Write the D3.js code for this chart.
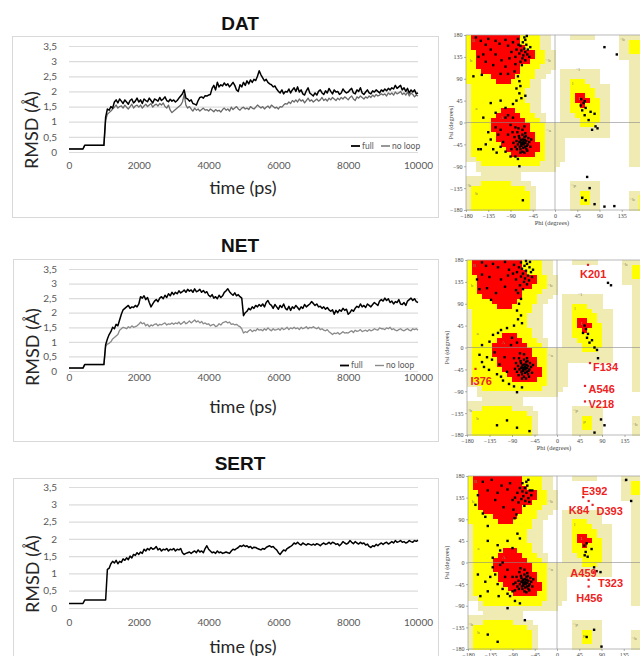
<!DOCTYPE html>
<html><head><meta charset="utf-8">
<script src="https://cdn.jsdelivr.net/npm/d3@7"></script>
<style>body{margin:0;background:#fff}svg{display:block}</style>
</head><body><svg id="c" width="640" height="656"></svg>
<script>
// ---------------- DATA ----------------
const timeStepPs = 50;
const xTicks = [0, 2000, 4000, 6000, 8000, 10000];
const yTicks = [0, 0.5, 1, 1.5, 2, 2.5, 3, 3.5];
const yTickLabels = ["0", "0,5", "1", "1,5", "2", "2,5", "3", "3,5"];
const seriesNames = ["full", "no loop"];
const panelTitles = ["DAT", "NET", "SERT"];

const datFull = [0.1,0.1,0.1,0.1,0.1,0.1,0.1,0.1,0.1,
0.22,0.22,0.22,0.22,0.22,0.22,0.22,0.22,0.22,0.22,0.22,0.22,
1.15,1.42,1.38,1.5,1.45,1.65,1.72,1.62,1.75,
1.68,1.6,1.72,1.65,1.58,1.7,1.75,1.62,1.68,1.78,
1.65,1.72,1.6,1.75,1.7,1.66,1.78,1.7,1.62,1.75,
1.72,1.68,1.8,1.7,1.75,1.82,1.7,1.66,1.74,1.68,
1.72,1.65,1.7,1.78,1.85,1.92,2.05,1.78,1.75,1.68,
1.72,1.6,1.58,1.55,1.7,1.8,1.82,1.78,1.86,1.85,
1.88,1.9,2.1,2.2,2.05,2.3,2.15,2.22,2.18,2.28,
2.2,2.25,2.15,2.22,2.3,2.2,2.05,2.0,2.22,2.15,
2.3,2.2,2.35,2.25,2.38,2.3,2.4,2.36,2.5,2.68,
2.55,2.45,2.35,2.4,2.3,2.25,2.22,2.15,2.18,2.08,
2.0,1.95,2.05,1.92,2.0,1.98,2.08,1.95,2.05,2.12,
2.0,2.15,1.98,2.05,1.92,1.88,2.02,2.12,1.95,1.9,
1.85,1.95,1.88,2.0,2.05,1.95,1.9,2.02,1.95,2.1,
2.0,1.92,2.05,1.98,2.0,1.9,1.95,2.08,2.0,1.95,
1.98,2.05,2.1,1.95,1.92,2.05,2.0,2.12,1.95,1.9,
1.98,2.05,1.95,1.92,2.02,1.98,2.05,2.0,1.95,2.05,
2.0,2.08,2.02,2.1,2.05,2.12,2.08,2.2,2.1,2.15,
2.2,2.05,2.12,2.0,2.1,1.95,2.05,1.98,2.05,1.92,
1.95];
const datNoLoop = [0.1,0.1,0.1,0.1,0.1,0.1,0.1,0.1,0.1,
0.22,0.22,0.22,0.22,0.22,0.22,0.22,0.22,0.22,0.22,0.22,0.22,
1.05,1.25,1.3,1.35,1.42,1.48,1.55,1.45,1.5,
1.52,1.45,1.55,1.48,1.42,1.5,1.58,1.45,1.52,1.55,
1.48,1.55,1.45,1.52,1.58,1.5,1.55,1.6,1.48,1.55,
1.58,1.52,1.6,1.55,1.62,1.5,1.45,1.55,1.38,1.3,
1.35,1.4,1.45,1.5,1.55,1.65,1.9,1.55,1.45,1.5,
1.42,1.35,1.45,1.38,1.42,1.35,1.4,1.45,1.38,1.4,
1.35,1.42,1.38,1.33,1.4,1.35,1.38,1.32,1.4,1.45,
1.38,1.42,1.35,1.48,1.4,1.45,1.5,1.42,1.38,1.45,
1.48,1.42,1.45,1.4,1.5,1.45,1.42,1.48,1.55,1.5,
1.45,1.5,1.42,1.48,1.52,1.45,1.55,1.5,1.45,1.48,
1.42,1.5,1.48,1.55,1.6,1.58,1.65,1.6,1.7,1.65,
1.72,1.65,1.75,1.68,1.72,1.62,1.7,1.78,1.68,1.72,
1.65,1.7,1.75,1.68,1.72,1.8,1.7,1.75,1.68,1.78,
1.72,1.8,1.75,1.7,1.78,1.72,1.8,1.75,1.82,1.78,
1.72,1.8,1.85,1.75,1.7,1.82,1.78,1.85,1.8,1.75,
1.82,1.78,1.85,1.8,1.88,1.82,1.9,1.85,1.88,1.92,
1.88,1.92,1.85,1.95,1.9,1.95,1.88,1.98,1.92,1.95,
2.0,1.9,1.95,1.88,1.98,1.85,1.95,1.9,1.82,1.88,
1.85];
const netFull = [0.1,0.1,0.1,0.1,0.1,0.1,0.1,0.1,0.1,
0.22,0.22,0.22,0.22,0.22,0.22,0.22,0.22,0.22,0.22,0.22,0.22,
0.9,1.1,1.25,1.35,1.5,1.45,1.6,1.55,1.75,
1.95,2.1,2.15,2.2,2.25,2.15,2.2,2.18,2.25,2.2,
2.3,2.55,2.5,2.58,2.45,2.52,2.35,2.2,2.3,2.4,
2.45,2.38,2.5,2.55,2.48,2.6,2.52,2.65,2.58,2.7,
2.62,2.7,2.65,2.75,2.68,2.72,2.78,2.7,2.8,2.74,
2.78,2.7,2.82,2.72,2.75,2.8,2.7,2.76,2.68,2.72,
2.6,2.55,2.62,2.5,2.55,2.48,2.6,2.52,2.58,2.7,
2.75,2.82,2.72,2.65,2.6,2.68,2.58,2.62,2.55,2.5,
1.9,2.0,2.05,2.15,2.1,2.2,2.15,2.25,2.2,2.28,
2.22,2.3,2.2,2.35,2.42,2.3,2.25,2.15,2.28,2.2,
2.12,2.25,2.18,2.3,2.15,2.1,2.22,2.08,2.2,2.15,
2.25,2.18,2.1,2.2,2.15,2.28,2.2,2.25,2.3,2.38,
2.32,2.25,2.3,2.2,2.22,2.15,2.2,2.12,2.18,2.1,
2.05,2.1,1.95,2.08,2.0,2.1,2.05,2.15,2.08,2.12,
1.95,2.0,2.1,2.05,2.15,2.22,2.18,2.3,2.2,2.25,
2.18,2.3,2.25,2.2,2.28,2.35,2.3,2.25,2.4,2.45,
2.4,2.5,2.42,2.48,2.35,2.4,2.3,2.38,2.35,2.45,
2.3,2.28,2.35,2.25,2.4,2.45,2.5,2.42,2.48,2.38,
2.35];
const netNoLoop = [0.1,0.1,0.1,0.1,0.1,0.1,0.1,0.1,0.1,
0.22,0.22,0.22,0.22,0.22,0.22,0.22,0.22,0.22,0.22,0.22,0.22,
0.85,0.92,0.95,1.0,1.1,1.15,1.2,1.25,1.4,
1.45,1.5,1.48,1.45,1.52,1.48,1.55,1.5,1.52,1.55,
1.6,1.68,1.62,1.65,1.55,1.6,1.52,1.58,1.55,1.6,
1.62,1.55,1.6,1.58,1.62,1.65,1.58,1.62,1.6,1.65,
1.6,1.65,1.62,1.68,1.6,1.65,1.7,1.62,1.66,1.72,
1.65,1.7,1.75,1.68,1.72,1.65,1.7,1.62,1.65,1.6,
1.62,1.55,1.58,1.6,1.52,1.55,1.62,1.58,1.65,1.68,
1.7,1.65,1.68,1.6,1.62,1.58,1.6,1.55,1.52,1.45,
1.3,1.35,1.32,1.38,1.42,1.35,1.4,1.38,1.45,1.4,
1.42,1.38,1.45,1.4,1.48,1.42,1.38,1.45,1.4,1.42,
1.45,1.4,1.48,1.42,1.45,1.5,1.42,1.48,1.45,1.5,
1.45,1.48,1.42,1.5,1.45,1.48,1.52,1.45,1.5,1.48,
1.52,1.48,1.45,1.5,1.42,1.45,1.4,1.38,1.42,1.35,
1.3,1.25,1.3,1.28,1.32,1.26,1.3,1.35,1.3,1.32,
1.3,1.35,1.38,1.32,1.4,1.36,1.38,1.42,1.35,1.38,
1.4,1.36,1.42,1.38,1.4,1.45,1.42,1.4,1.48,1.45,
1.45,1.42,1.48,1.45,1.5,1.42,1.45,1.4,1.38,1.42,
1.45,1.4,1.38,1.42,1.45,1.4,1.38,1.45,1.42,1.45,
1.4];
const sertFull = [0.13,0.13,0.13,0.13,0.13,0.13,0.13,0.13,0.13,
0.23,0.23,0.23,0.23,0.23,0.23,0.23,0.23,0.23,0.23,0.23,0.23,0.23,
1.12,1.15,1.28,1.35,1.3,1.38,1.28,1.35,
1.32,1.42,1.38,1.45,1.4,1.5,1.45,1.55,1.52,1.6,
1.55,1.62,1.58,1.7,1.65,1.72,1.68,1.75,1.7,1.72,
1.78,1.68,1.72,1.65,1.7,1.68,1.72,1.65,1.7,1.68,
1.72,1.65,1.7,1.68,1.72,1.6,1.55,1.58,1.6,1.62,
1.58,1.62,1.65,1.6,1.68,1.62,1.65,1.6,1.72,1.8,
1.7,1.65,1.6,1.62,1.58,1.65,1.6,1.62,1.58,1.6,
1.62,1.6,1.58,1.65,1.7,1.68,1.72,1.75,1.8,1.78,
1.82,1.78,1.8,1.75,1.78,1.72,1.76,1.75,1.72,1.7,
1.68,1.72,1.7,1.75,1.78,1.8,1.76,1.78,1.72,1.68,
1.6,1.55,1.62,1.68,1.65,1.72,1.75,1.78,1.82,1.88,
1.85,1.9,1.85,1.82,1.88,1.85,1.82,1.86,1.84,1.82,
1.85,1.82,1.86,1.84,1.8,1.85,1.88,1.84,1.86,1.9,
1.85,1.9,1.88,1.84,1.86,1.8,1.85,1.92,1.88,1.85,
1.88,1.95,1.9,1.86,1.92,1.88,1.85,1.9,1.86,1.88,
1.82,1.85,1.78,1.75,1.8,1.78,1.84,1.8,1.85,1.88,
1.84,1.88,1.9,1.85,1.88,1.92,1.88,1.95,1.9,1.92,
1.95,1.9,1.92,1.88,1.9,1.95,1.92,1.9,1.95,1.93,
1.96];

// Ramachandran region map: 36 rows (psi 180 -> -180, 10 deg each) x 36 cols (phi -180 -> 180)
// r = most favoured, y = additional allowed, p = generously allowed, . = disallowed
const ramaRegionRows = [
"yrrrrrrrrrryyyypp....ppppp.....ppppp",
"yrrrrrrrrrryyyypp..............ppyyy",
"yrrrrrrrrrrryyypp..............ppyyy",
"yyrrrrrrrrrrrryypp.............ppyyy",
"yyrrrrrrrrrrrryypp.............ppppp",
"yyrrrrrrrrrrryyypp...............ppp",
"yyrrrrrrrrryyyyppp...............ppp",
"yyyrrrrrrrryyyppp..pppppppp......ppp",
"yyyyyrrrrryyyypp...pppppppp......ppp",
"yyyyyyrrryyyypp....ppyyyppp......ppp",
"pyyyyyyyyyyyypp....ppyyyypppp....ppp",
"pyyyyyyyyyyyppp....ppyyyyyppp....ppp",
"pyyyyyyyyyyyppp....ppyrryyppp....ppp",
"pyyyyyyyyyyyppp....ppyrrryypp....ppp",
"pyyyyyyyyyyyypp....ppyyryyypp....ppp",
"pyyyyyyrrryyypp....ppyyyyyypp....ppp",
"pyyyyyrrrrryyypp...pppyyyyypp....ppp",
"pyyyyrrrrrrryyyp...ppppyyyypp....ppp",
"pyyyyrrrrrrrryyypppppppyyyppp....ppp",
"pyyyyrrrrrrrryyyppppppppppppp....ppp",
"pyyyyyrrrrrrrryyppppppppppppp....ppp",
"pyyyyyrrrrrrrryypppp.............ppp",
"pyyyyyyrrrrrrrrypppp.............ppp",
"pyyyyyyyrrrrrrrypppp.............ppp",
"pyyyyyyyyrrrrryypppp.............ppp",
"ppyyyyyyyyyyyyyypppp.............ppp",
"..pyyyyyyyyyyyypppp..............ppp",
"..pppppppppppppppp..................",
"...pppppppp.........................",
"ppppppppppp.........................",
"pppyyyyyypppp........pppppp.........",
"pyyyyyyyyyyypp.......pppppp.........",
"pyyyyyyyyyyyyp.......ppyypp......ppp",
"pyyyyyyyyyyyyp.......ppyypp......ppy",
"pyyyyyyyyyyyyp.......ppyypp......ppy",
"pyyyyyyyyyyyyp.......pppppp......ppy"];
const ramaTicks = [180, 135, 90, 45, 0, -45, -90, -135, -180];
const ramaPhiTicks = [-180, -135, -90, -45, 0, 45, 90, 135];
// small region letters [text, phi, psi]
const ramaRegionLabels = [["B",-164,170],["b",-170,128],["~b",-14,128],["~l",46,110],["l",36,80],["L",51,50],
 ["a",-159,30],["A",-107,10],["~a",-13,-15],["~p",37,-129],["p",55,-151],["b",-159,-146],["~b",-175,-129],["~b",136,171],["~b",156,-157]];

// [phi, psi] residues
const datPhiPsi = [[-60,170],[-65,165],[-58,160],[-70,158],[-62,152],[-55,150],[-68,148],[-60,145],[-72,142],[-64,138],[-56,140],[-66,132],[-60,128],[-70,125],[-52,135],[-74,160],[-78,150],[-80,135],[-85,165],[-88,145],[-62,175],[-57,178],[-75,172],[-50,155],[-67,118],[-80,120],[-82,105],
[-160,175],[-150,168],[-140,160],[-135,172],[-120,168],[-112,162],[-100,170],[-95,158],[-145,140],[-155,135],[-130,150],[-120,140],[-108,128],[-100,115],[-92,132],[-125,118],[-140,125],[-95,100],[-75,95],[-72,85],[-70,75],[-78,70],[-165,95],[-148,98],[-110,100],
[-72,60],[-68,50],[-78,45],[-60,55],[-110,45],[-130,40],[-85,38],[-100,30],[-120,20],[-145,10],[-95,15],
[-120,-10],[-115,-25],[-130,-35],[-140,-45],[-150,-55],[-155,-55],[-125,-55],[-110,-50],[-100,-60],[-105,-40],[-95,-25],[-90,-5],[-85,10],[-100,10],[-80,-70],[-75,-75],[-90,-70],[-72,-90],[-110,-15],[-135,-20],[-118,-62],[-88,-55],
[-70,-40],[-65,-35],[-60,-42],[-68,-48],[-62,-30],[-58,-38],[-72,-32],[-66,-25],[-55,-45],[-75,-45],[-64,-52],[-70,-55],[-58,-55],[-52,-40],[-60,-22],[-78,-38],[-80,-50],[-67,-42],[-63,-45],[-57,-48],[-73,-28],[-66,-60],[-54,-32],[-61,-36],[-69,-36],[-65,-44],[-71,-50],[-59,-28],[-76,-20],[-82,-30],[-62,-62],[-56,-58],[-50,-50],[-48,-35],[-66,-15],[-74,-12],[-84,-42],[-77,-55],[-64,-40],[-68,-44],[-60,-50],[-72,-40],[-70,-62],[-86,-20],[-80,-10],[-62,-8],
[53,48],[58,40],[60,44],[52,35],[62,30],[55,25],[60,15],[72,22],[80,18],[68,5],[82,-8],[86,-12],[75,-15],
[100,155],[125,140],[65,-112],[70,-135],[80,-168],[100,-173],[120,-172],[-65,-160],[55,-155],[62,-160]];
const netPhiPsi = [[-60,172],[-65,168],[-55,165],[-70,162],[-62,158],[-52,155],[-68,152],[-58,148],[-72,146],[-64,142],[-56,138],[-66,135],[-60,130],[-74,128],[-50,145],[-76,165],[-80,155],[-82,140],[-86,170],[-62,178],[-54,176],[-72,175],[-48,160],[-68,120],[-78,112],
[-150,175],[-142,168],[-128,172],[-118,165],[-104,176],[-96,160],[-150,150],[-135,145],[-112,140],[-98,148],[-88,152],[-160,140],[-104,125],[-122,112],[-140,122],[-82,118],[-72,100],[-76,90],[-80,76],[-72,66],[-78,58],[-70,50],[-86,45],[-132,98],[-155,120],
[-112,36],[-118,30],[-128,26],[-135,12],[-150,5],[-100,40],[-90,20],[-155,-15],
[-150,-30],[-146,-40],[-136,-46],[-130,-25],[-120,-55],[-112,-60],[-96,-75],[-86,-80],[-80,-92],[-125,-10],[-115,-35],[-105,-20],[-140,-20],[-100,-50],[-92,5],[-80,10],[-108,-68],[-70,-82],
[-70,-40],[-65,-35],[-60,-42],[-68,-48],[-62,-30],[-58,-38],[-72,-32],[-66,-25],[-55,-45],[-75,-45],[-64,-52],[-70,-55],[-58,-55],[-52,-40],[-60,-22],[-78,-38],[-80,-50],[-67,-42],[-63,-45],[-57,-48],[-73,-28],[-66,-60],[-54,-32],[-61,-36],[-69,-36],[-65,-44],[-71,-50],[-59,-28],[-76,-22],[-82,-32],[-62,-64],[-56,-60],[-50,-52],[-48,-36],[-66,-14],[-74,-12],[-84,-44],[-77,-57],[-64,-40],[-68,-46],[-60,-50],[-72,-42],[-70,-64],[-86,-22],
[55,45],[58,38],[52,30],[60,20],[65,10],[70,15],[75,0],[80,-5],[82,-22],[62,28],
[102,133],[108,128],[88,-148],[95,-160],[75,-175],[-100,-150],[-80,-165],[-55,-172],[-120,-160]];
const sertPhiPsi = [[-60,160],[-65,155],[-55,150],[-70,148],[-62,145],[-52,140],[-68,138],[-58,134],[-72,132],[-64,128],[-56,126],[-75,155],[-80,145],[-85,135],[-62,168],[-50,150],[-78,125],[-66,118],[-70,165],[-58,172],
[-150,168],[-132,172],[-112,160],[-160,140],[-140,150],[-120,145],[-100,152],[-90,130],[-165,120],[-150,102],[-145,95],[-82,100],[-86,92],[-140,76],[-108,115],[-125,130],[-95,165],[-88,110],
[-120,36],[-115,25],[-140,45],[-100,45],[-90,30],[-130,10],[-75,50],[-80,60],
[-130,-10],[-125,-25],[-135,-30],[-120,-45],[-110,-55],[-100,-65],[-95,-70],[-85,-80],[-75,-85],[-140,-60],[-145,-40],[-160,-25],[-155,-70],[-115,-5],[-105,-30],[-118,-70],[-90,-60],[-100,-15],[-110,0],
[-70,-40],[-65,-35],[-60,-42],[-68,-48],[-62,-30],[-58,-38],[-72,-32],[-66,-25],[-55,-45],[-75,-45],[-64,-52],[-70,-55],[-58,-55],[-52,-40],[-60,-22],[-78,-38],[-80,-50],[-67,-42],[-63,-45],[-57,-48],[-73,-28],[-66,-60],[-54,-32],[-61,-36],[-69,-36],[-65,-44],[-71,-50],[-59,-28],[-76,-20],[-82,-30],[-62,-62],[-56,-58],[-50,-50],[-48,-35],[-66,-15],[-74,-12],[-84,-42],[-77,-55],[-64,-40],[-68,-44],[-60,-50],[-72,-40],[-88,-45],[-90,-30],[-85,-58],
[60,40],[55,35],[58,22],[62,12],[70,28],[75,-10],[80,-18],[88,-20],[56,15],
[-120,-165],[-140,-150],[60,-155],[75,-140],[90,-175],[140,172],[150,128],[-65,-120],[-100,-95]];
// outliers: name, phi, psi of residue, phi/psi of label anchor (left, middle)
const netOutliers = [
 {name:"K201", phi:62, psi:170, lphi:46, lpsi:152},
 {name:"F134", phi:66, psi:-32, lphi:72, lpsi:-40},
 {name:"A546", phi:56, psi:-79, lphi:63, lpsi:-86},
 {name:"V218", phi:56, psi:-111, lphi:63, lpsi:-116},
 {name:"I376", phi:-163, psi:-44, lphi:-173, lpsi:-68}];
const sertOutliers = [
 {name:"E392", phi:53, psi:136, lphi:50, lpsi:149},
 {name:"K84", phi:64, psi:128, lphi:24, lpsi:110},
 {name:"D393", phi:72, psi:120, lphi:80, lpsi:108},
 {name:"A459", phi:74, psi:-20, lphi:27, lpsi:-21},
 {name:"T323", phi:64, psi:-36, lphi:83, lpsi:-43},
 {name:"H456", phi:64, psi:-50, lphi:39, lpsi:-73}];

// ---------------- DRAW ----------------
const svg = d3.select("#c");
const excelFont = "Lato, 'Open Sans', sans-serif";

function linePanel(cfg) {
  const g = svg.append("g");
  g.append("rect").attr("x", cfg.box[0] + 0.5).attr("y", cfg.box[1] + 0.5)
    .attr("width", cfg.box[2] - cfg.box[0]).attr("height", cfg.box[3] - cfg.box[1])
    .attr("fill", "#fff").attr("stroke", "#d9d9d9");
  g.append("text").attr("x", 240).attr("y", cfg.titleY).attr("dy", "0.36em")
    .attr("text-anchor", "middle").attr("font-family", "'Liberation Sans', Arial, sans-serif")
    .attr("font-weight", "bold").attr("font-size", 19).attr("fill", "#111").text(cfg.title);
  const x = d3.scaleLinear().domain([0, 10000]).range([69, 418]);
  const y = d3.scaleLinear().domain([0, 3.5]).range([cfg.y0, cfg.y35]);
  const ya = g.append("g").attr("transform", `translate(69,0)`)
    .call(d3.axisLeft(y).tickValues(yTicks).tickFormat((d, i) => yTickLabels[i])
      .tickSize(-(418 - 69)).tickPadding(12));
  ya.select(".domain").remove();
  ya.selectAll("line").attr("stroke", "#dcdcdc").attr("stroke-width", 1.2);
  ya.selectAll("text").attr("fill", "#595959").attr("font-size", 10).attr("font-family", excelFont);
  const xa = g.append("g").attr("transform", `translate(0,${cfg.y0})`)
    .call(d3.axisBottom(x).tickValues(xTicks).tickFormat(d3.format("d")).tickSize(0).tickPadding(cfg.xPad));
  xa.select(".domain").remove();
  xa.selectAll("text").attr("fill", "#595959").attr("font-size", 10).attr("font-family", excelFont);
  g.append("text").attr("x", 243).attr("y", cfg.timeY).attr("dy", "0.36em").attr("text-anchor", "middle")
    .attr("font-family", excelFont).attr("font-size", 18).attr("fill", "#262626").text("time (ps)");
  g.append("text").attr("transform", `translate(${cfg.rmsd[0]},${cfg.rmsd[1]}) rotate(-90)`)
    .attr("dy", "0.36em").attr("text-anchor", "middle")
    .attr("font-family", excelFont).attr("font-size", 18).attr("fill", "#262626").text("RMSD (Å)");
  const line = d3.line().x((d, i) => x(i * timeStepPs)).y(d => y(d));
  if (cfg.noLoop) {
    g.append("path").datum(cfg.noLoop).attr("d", line).attr("fill", "none")
      .attr("stroke", cfg.grey).attr("stroke-width", 1.3).attr("stroke-linejoin", "round");
  }
  g.append("path").datum(cfg.full).attr("d", line).attr("fill", "none")
    .attr("stroke", "#000").attr("stroke-width", 1.5).attr("stroke-linejoin", "round");
  if (cfg.legend) {
    const L = cfg.legend;
    const items = [{n: seriesNames[0], c: "#000", w: 1.8, x: L.x}, {n: seriesNames[1], c: cfg.grey, w: 1.4, x: L.x2}];
    items.forEach(it => {
      g.append("line").attr("x1", it.x).attr("x2", it.x + 9).attr("y1", L.y).attr("y2", L.y)
        .attr("stroke", it.c).attr("stroke-width", it.w);
      g.append("text").attr("x", it.x + 11).attr("y", L.y).attr("dy", "0.35em")
        .attr("font-family", excelFont).attr("font-size", 8.5).attr("fill", "#595959").text(it.n);
    });
  }
}

linePanel({title: panelTitles[0], box: [12, 36, 438, 217], titleY: 23, y0: 152, y35: 46, xPad: 10, timeY: 188, rmsd: [32, 130], full: datFull, noLoop: datNoLoop, grey: "#6a6a6a", legend: {x: 351, x2: 381, y: 146}});
linePanel({title: panelTitles[1], box: [13, 259, 438, 441], titleY: 245, y0: 371, y35: 269, xPad: 3, timeY: 407, rmsd: [33, 347], full: netFull, noLoop: netNoLoop, grey: "#8a8a8a", legend: {x: 340, x2: 375, y: 365.5}});
linePanel({title: panelTitles[2], box: [13, 478, 438, 700], titleY: 463, y0: 608, y35: 487, xPad: 11, timeY: 647, rmsd: [33, 574], full: sertFull, noLoop: null, grey: "#777"});

const regionColor = {p: "#efebb3", y: "#ffff00", r: "#ff0000"};
const serif = "'Liberation Serif', 'DejaVu Serif', serif";

function ramaPanel(cfg) {
  const g = svg.append("g");
  const x = d3.scaleLinear().domain([-180, 180]).range([cfg.x0, cfg.x1]);
  const y = d3.scaleLinear().domain([180, -180]).range([cfg.y0, cfg.y1]);
  const cells = [];
  ramaRegionRows.forEach((row, i) => row.split("").forEach((c, j) => {
    if (c !== ".") cells.push({i, j, c});
  }));
  g.append("g").attr("shape-rendering", "crispEdges").selectAll("rect").data(cells).join("rect")
    .attr("x", d => x(-180 + 10 * d.j)).attr("y", d => y(180 - 10 * d.i))
    .attr("width", d => x(-170 + 10 * d.j) - x(-180 + 10 * d.j) + 0.5)
    .attr("height", d => y(170 - 10 * d.i) - y(180 - 10 * d.i) + 0.5)
    .attr("fill", d => regionColor[d.c]);
  const regionLabelG = g.append("g");
  // zero lines
  g.append("line").attr("x1", x(0)).attr("x2", x(0)).attr("y1", cfg.y0).attr("y2", cfg.y1).attr("stroke", "#8a8a8a").attr("stroke-width", 0.6);
  g.append("line").attr("x1", cfg.x0).attr("x2", cfg.x1).attr("y1", y(0)).attr("y2", y(0)).attr("stroke", "#8a8a8a").attr("stroke-width", 0.6);
  // frame
  g.append("rect").attr("x", cfg.x0).attr("y", cfg.y0).attr("width", cfg.x1 - cfg.x0).attr("height", cfg.y1 - cfg.y0)
    .attr("fill", "none").attr("stroke", "#9a9a9a").attr("stroke-width", 0.7);
  const ay = g.append("g").attr("transform", `translate(${cfg.x0},0)`)
    .call(d3.axisLeft(y).tickValues(ramaTicks).tickSize(2).tickPadding(1.5).tickFormat(d3.format("d")));
  ay.select(".domain").remove();
  ay.selectAll("line").attr("stroke", "#666").attr("stroke-width", 0.5);
  ay.selectAll("text").attr("font-family", serif).attr("font-size", 6).attr("fill", "#444");
  const ax = g.append("g").attr("transform", `translate(0,${cfg.y1})`)
    .call(d3.axisBottom(x).tickValues(ramaPhiTicks).tickSize(2).tickPadding(1.5).tickFormat(d3.format("d")));
  ax.select(".domain").remove();
  ax.selectAll("line").attr("stroke", "#666").attr("stroke-width", 0.5);
  ax.selectAll("text").attr("font-family", serif).attr("font-size", 6).attr("fill", "#444");
  g.append("text").attr("x", x(0) - 3).attr("y", cfg.y1 + 13).attr("dy", "0.35em").attr("text-anchor", "middle")
    .attr("font-family", serif).attr("font-size", 6.5).attr("fill", "#444").text("Phi (degrees)");
  g.append("text").attr("transform", `translate(${cfg.psiX},${(cfg.y0 + cfg.y1) / 2}) rotate(-90)`)
    .attr("dy", "0.35em").attr("text-anchor", "middle")
    .attr("font-family", serif).attr("font-size", 6.5).attr("fill", "#444").text("Psi (degrees)");
  // residues
  g.append("g").selectAll("rect").data(cfg.points).join("rect")
    .attr("x", d => x(d[0]) - 1.2).attr("y", d => y(d[1]) - 1.2).attr("width", 2.4).attr("height", 2.4)
    .attr("fill", "#000");
  const boxes = [];
  if (cfg.outliers) {
    g.append("g").selectAll("rect").data(cfg.outliers).join("rect")
      .attr("x", d => x(d.phi) - 1.1).attr("y", d => y(d.psi) - 1.1).attr("width", 2.2).attr("height", 2.2)
      .attr("fill", "#e8202a");
    g.append("g").selectAll("text").data(cfg.outliers).join("text")
      .attr("x", d => x(d.lphi)).attr("y", d => y(d.lpsi)).attr("dy", "0.36em")
      .attr("font-family", "'Liberation Sans', Arial, sans-serif").attr("font-weight", "bold")
      .attr("font-size", 11).attr("fill", "#ee2222").text(d => d.name)
      .each(function () { boxes.push(this.getBBox()); });
  }
  // tiny region letters, hidden where a residue label covers them
  const visibleLabels = ramaRegionLabels.filter(d => !boxes.some(b =>
    x(d[1]) > b.x - 4 && x(d[1]) < b.x + b.width + 4 && y(d[2]) > b.y - 4 && y(d[2]) < b.y + b.height + 4));
  regionLabelG.selectAll("text").data(visibleLabels).join("text")
    .attr("x", d => x(d[1])).attr("y", d => y(d[2])).attr("dy", "0.35em").attr("text-anchor", "middle")
    .attr("font-family", serif).attr("font-size", 5).attr("fill", "#8a8560").text(d => d[0]);
}

ramaPanel({x0: 466, x1: 644, y0: 35, y1: 210, psiX: 451, points: datPhiPsi});
ramaPanel({x0: 467, x1: 647, y0: 260, y1: 435, psiX: 447, points: netPhiPsi, outliers: netOutliers});
ramaPanel({x0: 468, x1: 646, y0: 476, y1: 649, psiX: 447, points: sertPhiPsi, outliers: sertOutliers});
</script></body></html>
